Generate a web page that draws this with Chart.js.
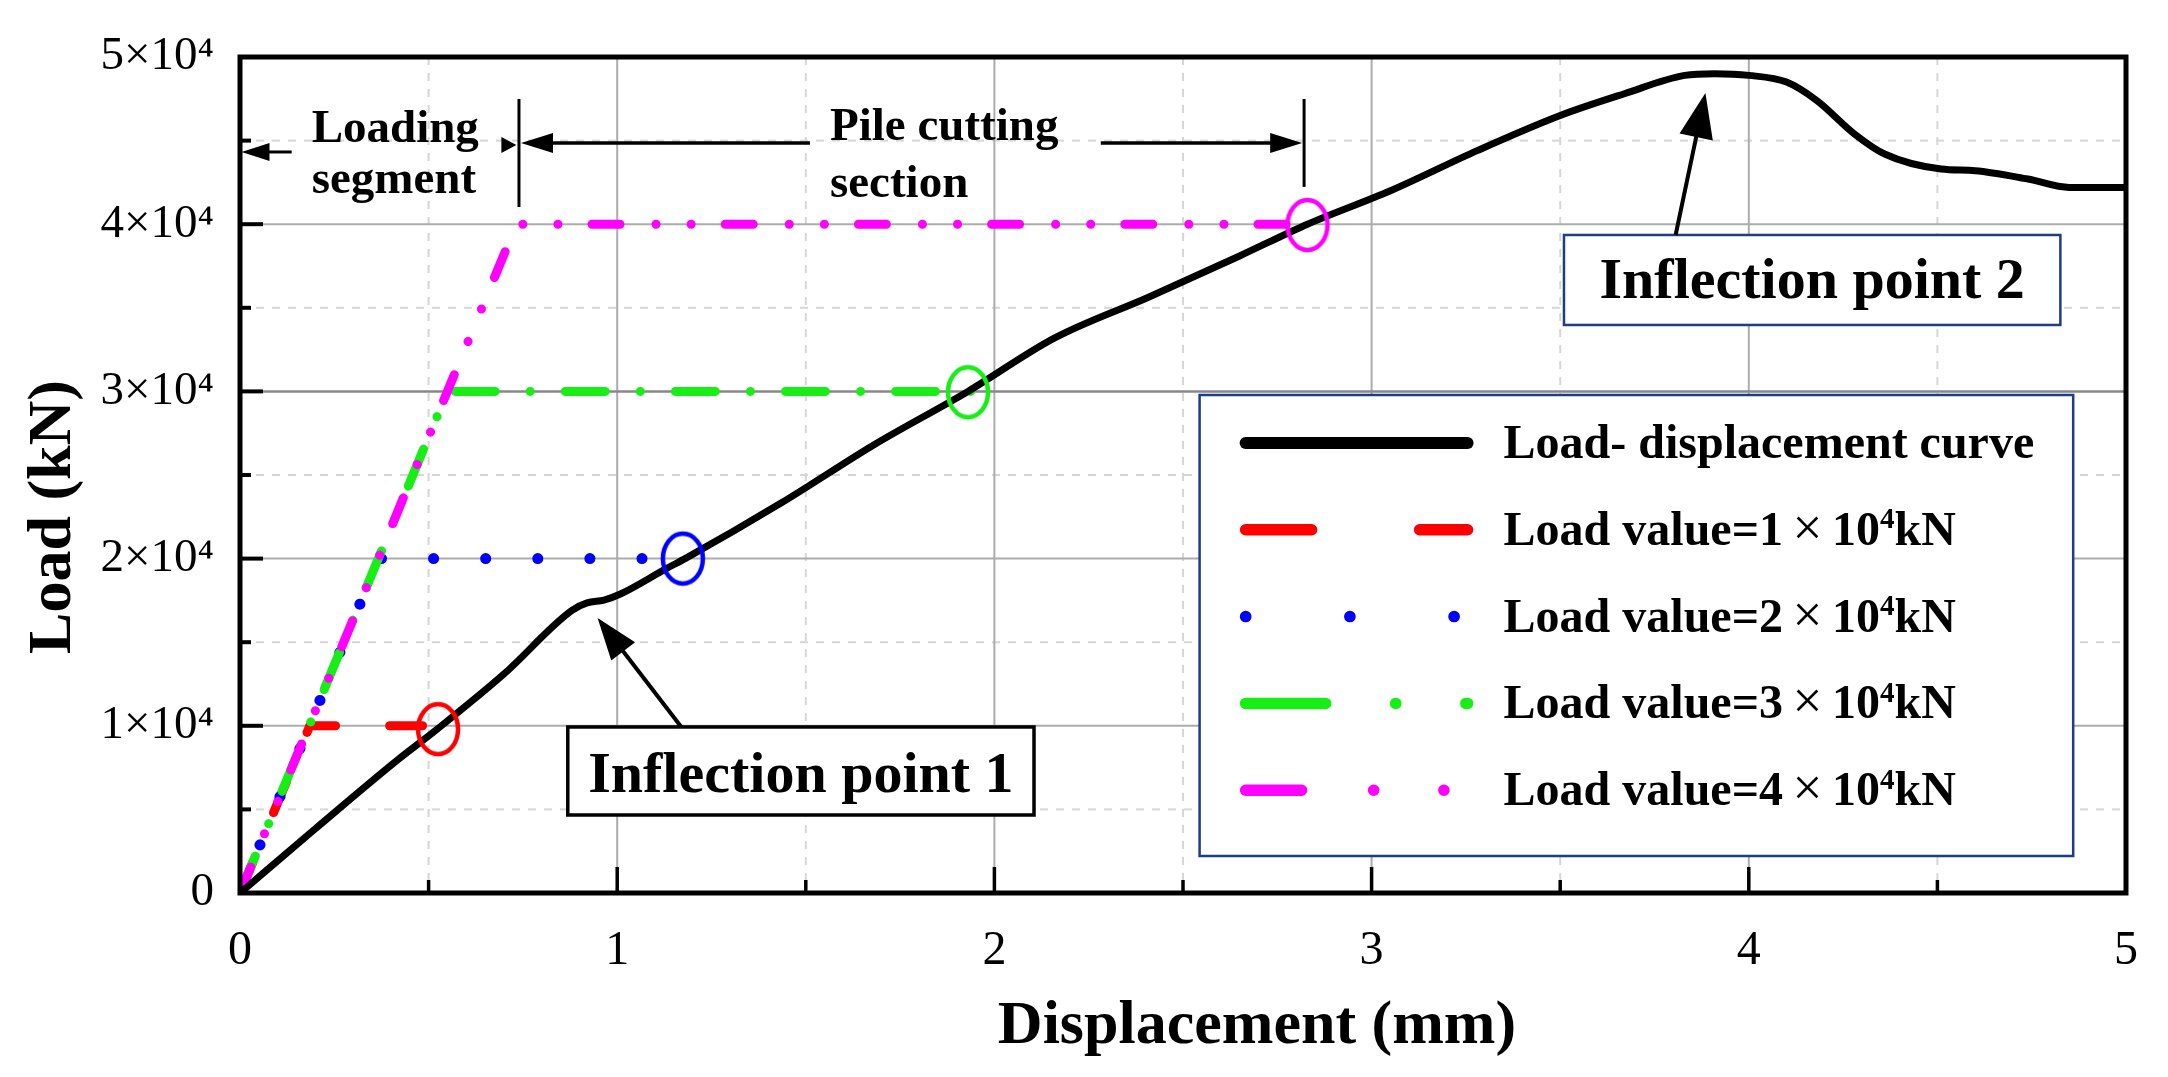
<!DOCTYPE html>
<html>
<head>
<meta charset="utf-8">
<script src="https://cdn.jsdelivr.net/npm/chart.js@4.4.1/dist/chart.umd.min.js"></script>
<style>
html,body{margin:0;padding:0;background:#ffffff;}
canvas{display:block;}
</style>
</head>
<body>
<canvas id="c" width="2168" height="1077"></canvas>
<script>
// ---------------- DATA ----------------
const curveDisp = [0, 0.2, 0.42, 0.52, 0.7, 0.88, 0.92, 0.965, 1.01, 1.13, 1.18, 1.44, 1.68, 1.93, 2.16, 2.41, 2.65, 2.83, 3.05, 3.28, 3.5, 3.67, 3.83, 3.91, 4.0, 4.1, 4.18, 4.28, 4.36, 4.51, 4.6, 4.74, 4.85, 5.0];
const curveLoad = [0, 3850, 8000, 9750, 13100, 16900, 17350, 17520, 17900, 19400, 20000, 23400, 26800, 30000, 33200, 35650, 38100, 40000, 42000, 44400, 46500, 47800, 48900, 49000, 48900, 48500, 47400, 45400, 44200, 43300, 43200, 42700, 42200, 42200];
const levelLoads = [10000, 20000, 30000, 40000];
const levelCornerDisp = [0.185, 0.368, 0.55, 0.733];
const levelEndDisp = [0.525, 1.18, 1.94, 2.83];
const circleDisp = [0.525, 1.174, 1.93, 2.83];
const circleLoad = [9800, 20000, 29950, 39950];
const seriesLabels = ['Load- displacement curve', 'Load value=1×10⁴kN', 'Load value=2×10⁴kN', 'Load value=3×10⁴kN', 'Load value=4×10⁴kN'];
const yTickLabels = ['0', '1×10⁴', '2×10⁴', '3×10⁴', '4×10⁴', '5×10⁴'];
const xTickLabels = ['0', '1', '2', '3', '4', '5'];

// ---------------- STYLES ----------------
const levelColors = ['#ff0000', '#0000ff', '#16ee16', '#ff00ff'];
const levelDash = [[33, 54], [0.1, 52], [40, 35, 0.1, 35], [28, 36, 0.1, 35, 0.1, 34]];
const levelWidth = [9, 11, 9, 9];
const SERIF = '"Liberation Serif", "Times New Roman", "DejaVu Serif", serif';

function makeEllipse(color) {
  const c = document.createElement('canvas');
  c.width = 50; c.height = 60;
  const g = c.getContext('2d');
  g.strokeStyle = color; g.lineWidth = 4.5;
  g.beginPath(); g.ellipse(25, 30, 20, 25, 0, 0, Math.PI * 2); g.stroke();
  return c;
}
const ellipses = levelColors.map(makeEllipse);

// annotation layout (data coordinates)
const notes = {
  loadingArrow: {x1: 0.137, x2: 0.004, y: 44320},
  leftBar: {x: 0.7396, y1: 47490, y2: 41030},
  rightBar: {x: 2.821, y1: 47490, y2: 42230},
  smallHead: {x: 0.738, y: 44740},
  pileLeft: {x1: 1.511, x2: 0.745, y: 44860},
  pileRight: {x1: 2.282, x2: 2.816, y: 44860},
  loadingText: {x: 0.19, y1: 44920, y2: 41870, lines: ['Loading', 'segment']},
  pileText: {x: 1.564, y1: 45040, y2: 41630, lines: ['Pile cutting', 'section']},
  box1: {x1: 0.869, x2: 2.105, y1: 9929, y2: 4665, ty: 6041, text: 'Inflection point 1', border: '#000000', bw: 3.5},
  arrow1: {x1: 1.170, y1: 9929, x2: 0.948, y2: 16448},
  box2: {x1: 3.510, x2: 4.826, y1: 39355, y2: 33973, ty: 35587, text: 'Inflection point 2', border: '#1f3c88', bw: 2.5},
  arrow2: {x1: 3.806, y1: 39355, x2: 3.885, y2: 47848},
  legend: {x1: 2.544, x2: 4.860, y1: 29785, y2: 2213}
};

// ---------------- HELPERS ----------------
function seg(ctx, x1, y1, x2, y2) { ctx.beginPath(); ctx.moveTo(x1, y1); ctx.lineTo(x2, y2); ctx.stroke(); }
function arrow(ctx, x1, y1, x2, y2, len, half, lw) {
  const dx = x2 - x1, dy = y2 - y1, L = Math.hypot(dx, dy);
  const ux = dx / L, uy = dy / L;
  const bx = x2 - ux * len, by = y2 - uy * len;
  ctx.lineWidth = lw; ctx.strokeStyle = '#000'; ctx.fillStyle = '#000';
  seg(ctx, x1, y1, bx + ux * 2, by + uy * 2);
  ctx.beginPath();
  ctx.moveTo(x2, y2);
  ctx.lineTo(bx - uy * half, by + ux * half);
  ctx.lineTo(bx + uy * half, by - ux * half);
  ctx.closePath(); ctx.fill();
}
function richText(ctx, text, x, y, size) {
  let cx = x;
  const runs = [];
  for (const ch of text) {
    const t = ch === '×' ? 'x' : (ch === '⁴' ? 's' : 'n');
    if (runs.length && runs[runs.length - 1].t === t && t === 'n') runs[runs.length - 1].s += ch;
    else runs.push({t, s: ch});
  }
  ctx.textAlign = 'left'; ctx.textBaseline = 'alphabetic'; ctx.fillStyle = '#000';
  for (const r of runs) {
    if (r.t === 'n') {
      ctx.font = `bold ${size}px ${SERIF}`;
      ctx.fillText(r.s, cx, y); cx += ctx.measureText(r.s).width;
    } else if (r.t === 'x') {
      ctx.font = `${Math.round(size * 1.1)}px ${SERIF}`;
      cx += size * 0.2;
      ctx.fillText('×', cx, y); cx += ctx.measureText('×').width + size * 0.2;
    } else {
      ctx.font = `bold ${Math.round(size * 0.6)}px ${SERIF}`;
      ctx.fillText('4', cx, y - size * 0.34); cx += ctx.measureText('4').width;
    }
  }
}

// ---------------- PLUGINS ----------------
const gridPlugin = {
  id: 'customGrid',
  beforeDatasetsDraw(chart) {
    const {ctx, chartArea: a, scales: {x, y}} = chart;
    const xv = x.ticks.map(t => t.value), yv = y.ticks.map(t => t.value);
    ctx.save();
    ctx.lineWidth = 2; ctx.setLineDash([8, 8]); ctx.strokeStyle = '#d6d6d6';
    for (let i = 0; i < xv.length - 1; i++) { const p = x.getPixelForValue((xv[i] + xv[i + 1]) / 2); seg(ctx, p, a.top, p, a.bottom); }
    for (let i = 0; i < yv.length - 1; i++) { const p = y.getPixelForValue((yv[i] + yv[i + 1]) / 2); seg(ctx, a.left, p, a.right, p); }
    ctx.setLineDash([]);
    for (const v of xv) { ctx.strokeStyle = '#acacac'; const p = x.getPixelForValue(v); seg(ctx, p, a.top, p, a.bottom); }
    for (const v of yv) { ctx.strokeStyle = v === 30000 ? '#888888' : '#acacac'; ctx.lineWidth = v === 30000 ? 2.5 : 2; const p = y.getPixelForValue(v); seg(ctx, a.left, p, a.right, p); }
    ctx.restore();
  }
};

const overlayPlugin = {
  id: 'overlay',
  afterDatasetsDraw(chart) {
    const {ctx, chartArea: a, scales: {x, y}} = chart;
    const X = v => x.getPixelForValue(v), Y = v => y.getPixelForValue(v);
    const xv = x.ticks.map(t => t.value), yv = y.ticks.map(t => t.value);
    ctx.save();
    // frame
    ctx.strokeStyle = '#000'; ctx.lineWidth = 5;
    ctx.strokeRect(a.left, a.top, a.right - a.left, a.bottom - a.top);
    // inward ticks
    ctx.lineWidth = 3.5;
    for (let i = 0; i < xv.length; i++) {
      const p = X(xv[i]); seg(ctx, p, a.bottom, p, a.bottom - 26);
      if (i < xv.length - 1) { const m = X((xv[i] + xv[i + 1]) / 2); seg(ctx, m, a.bottom, m, a.bottom - 13); }
    }
    ctx.lineWidth = 4;
    for (let i = 0; i < yv.length; i++) {
      const p = Y(yv[i]); seg(ctx, a.left, p, a.left + 23, p);
      if (i < yv.length - 1) { const m = Y((yv[i] + yv[i + 1]) / 2); seg(ctx, a.left, m, a.left + 11, m); }
    }
    // axis titles
    ctx.fillStyle = '#000';
    ctx.font = `bold 62px ${SERIF}`; ctx.textAlign = 'center'; ctx.textBaseline = 'alphabetic';
    ctx.fillText('Displacement (mm)', (a.left + a.right) / 2 + 74, 1043);
    ctx.save(); ctx.translate(70, (a.top + a.bottom) / 2 + 42); ctx.rotate(-Math.PI / 2);
    ctx.fillText('Load (kN)', 0, 0); ctx.restore();

    // section annotations
    ctx.strokeStyle = '#000'; ctx.lineWidth = 3;
    seg(ctx, X(notes.leftBar.x), Y(notes.leftBar.y1), X(notes.leftBar.x), Y(notes.leftBar.y2));
    seg(ctx, X(notes.rightBar.x), Y(notes.rightBar.y1), X(notes.rightBar.x), Y(notes.rightBar.y2));
    arrow(ctx, X(notes.loadingArrow.x1), Y(notes.loadingArrow.y), X(notes.loadingArrow.x2), Y(notes.loadingArrow.y), 28, 9, 3);
    { const tx = X(notes.smallHead.x) - 2, ty = Y(notes.smallHead.y);
      ctx.beginPath(); ctx.moveTo(tx, ty); ctx.lineTo(tx - 15, ty - 8); ctx.lineTo(tx - 15, ty + 8); ctx.closePath(); ctx.fill(); }
    arrow(ctx, X(notes.pileLeft.x1), Y(notes.pileLeft.y), X(notes.pileLeft.x2), Y(notes.pileLeft.y), 32, 10, 3.5);
    arrow(ctx, X(notes.pileRight.x1), Y(notes.pileRight.y), X(notes.pileRight.x2), Y(notes.pileRight.y), 32, 10, 3.5);
    ctx.font = `bold 47px ${SERIF}`; ctx.textAlign = 'left'; ctx.textBaseline = 'alphabetic';
    for (const t of [notes.loadingText, notes.pileText]) {
      ctx.fillText(t.lines[0], X(t.x), Y(t.y1));
      ctx.fillText(t.lines[1], X(t.x), Y(t.y2));
    }
    // inflection boxes
    for (const b of [notes.box1, notes.box2]) {
      const l = X(b.x1), r = X(b.x2), t = Y(b.y1), bt = Y(b.y2);
      ctx.fillStyle = '#fff'; ctx.fillRect(l, t, r - l, bt - t);
      ctx.strokeStyle = b.border; ctx.lineWidth = b.bw; ctx.strokeRect(l, t, r - l, bt - t);
      ctx.fillStyle = '#000'; ctx.font = `bold 58px ${SERIF}`; ctx.textAlign = 'center';
      ctx.fillText(b.text, (l + r) / 2, Y(b.ty));
    }
    arrow(ctx, X(notes.arrow1.x1), Y(notes.arrow1.y1), X(notes.arrow1.x2), Y(notes.arrow1.y2), 42, 15, 4);
    arrow(ctx, X(notes.arrow2.x1), Y(notes.arrow2.y1), X(notes.arrow2.x2), Y(notes.arrow2.y2), 45, 17, 4);

    // legend
    const lg = notes.legend;
    const L = X(lg.x1), R = X(lg.x2), T = Y(lg.y1), B = Y(lg.y2);
    ctx.fillStyle = '#fff'; ctx.fillRect(L, T, R - L, B - T);
    ctx.strokeStyle = '#1f3c88'; ctx.lineWidth = 2.5; ctx.strokeRect(L, T, R - L, B - T);
    const ds = chart.data.datasets;
    for (let i = 0; i < 5; i++) {
      const rowY = T + 48 + i * 86.8;
      const d = ds[i];
      ctx.save();
      ctx.strokeStyle = d.borderColor; ctx.lineCap = 'round';
      ctx.lineWidth = i === 0 ? 12 : 11.5;
      ctx.setLineDash(d.borderDash ? d.borderDash.map(v => v * 2) : []);
      seg(ctx, L + 46, rowY, L + 268, rowY);
      ctx.restore();
      richText(ctx, d.label, L + 304, rowY + 15, 48);
    }
    ctx.restore();
  }
};

// ---------------- CHART ----------------
const datasets = [
  {
    label: seriesLabels[0],
    data: curveDisp.map((d, i) => ({x: d, y: curveLoad[i]})),
    borderColor: '#000000', borderWidth: 7, pointRadius: 0,
    cubicInterpolationMode: 'monotone', fill: false, order: 1
  },
  ...levelLoads.map((L, i) => ({
    label: seriesLabels[i + 1],
    data: [{x: 0, y: 0}, {x: levelCornerDisp[i], y: L}, {x: levelEndDisp[i], y: L}],
    borderColor: levelColors[i], borderWidth: levelWidth[i], borderDash: levelDash[i],
    borderCapStyle: 'round', borderJoinStyle: 'round', pointRadius: 0, tension: 0,
    fill: false, order: 5 - i
  })),
  ...circleDisp.map((d, i) => ({
    label: 'marker' + (i + 1),
    data: [{x: d, y: circleLoad[i]}],
    showLine: false, pointStyle: ellipses[i], pointRadius: 25, order: 0
  }))
];

new Chart(document.getElementById('c'), {
  type: 'line',
  data: {datasets},
  options: {
    responsive: false, animation: false, devicePixelRatio: 1, events: [],
    layout: {padding: {top: 57, right: 35, left: 0, bottom: 0}},
    plugins: {legend: {display: false}, tooltip: {enabled: false}},
    scales: {
      x: {
        type: 'linear', min: 0, max: 5,
        ticks: {stepSize: 1, color: '#000', padding: 30, font: {family: SERIF, size: 48},
                callback: (v) => xTickLabels[Math.round(v)]},
        grid: {display: false, drawTicks: false}, border: {display: false},
        afterFit: (s) => { s.height = 184; }
      },
      y: {
        type: 'linear', min: 0, max: 50000,
        ticks: {stepSize: 10000, color: '#000', padding: 26, font: {family: SERIF, size: 47},
                callback: (v) => yTickLabels[Math.round(v / 10000)]},
        grid: {display: false, drawTicks: false}, border: {display: false},
        afterFit: (s) => { s.width = 240; }
      }
    }
  },
  plugins: [gridPlugin, overlayPlugin]
});
</script>
</body>
</html>
